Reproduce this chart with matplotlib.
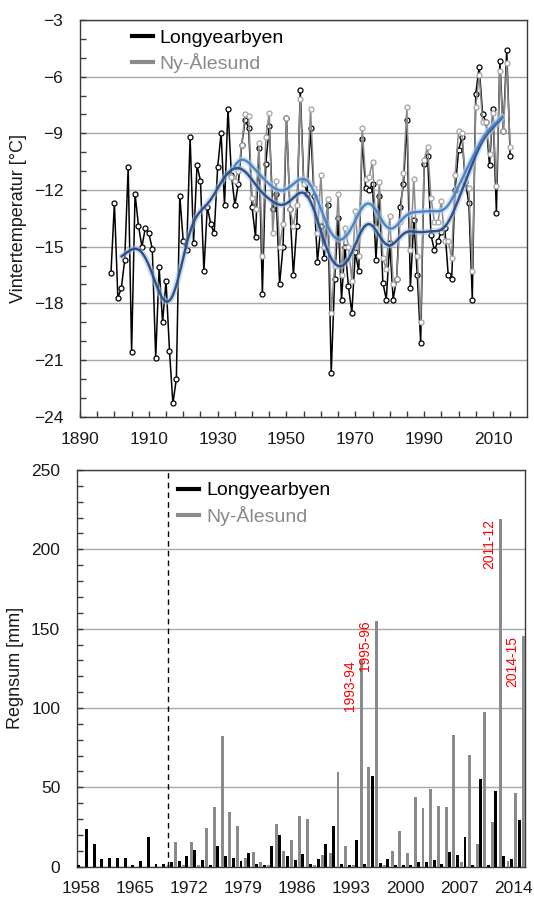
import numpy as np
import matplotlib
matplotlib.use( "Agg" )
import matplotlib.pyplot as plt
from matplotlib.lines import Line2D
from matplotlib.ticker import MultipleLocator, FixedLocator

plt.rcParams[ 'font.family' ] = [ 'Liberation Sans', 'DejaVu Sans' ]

#  Winter temperatures, Longyearbyen 1899-2015
lyr_start = 1899
lyr_temp = [
  -16.4, -12.7, -17.7, -17.2, -15.7, -10.8, -20.6, -12.2, -13.9, -15.0,
  -14.0, -14.3, -15.1, -20.9, -16.1, -19.0, -16.8, -20.5, -23.3, -22.0,
  -12.3, -14.7, -15.2, -9.2, -14.8, -10.7, -11.5, -16.3, -12.9, -13.8,
  -14.3, -10.8, -9.0, -12.8, -7.7, -11.2, -12.8, -11.7, -9.6, -8.3,
  -8.7, -12.9, -14.5, -9.8, -17.5, -10.6, -8.6, -13.0, -12.2, -17.0,
  -15.0, -8.2, -13.0, -16.5, -13.9, -6.7, -11.5, -12.2, -8.7, -12.3,
  -15.8, -13.9, -15.6, -12.8, -21.7, -16.7, -13.5, -17.8, -15.0, -17.1,
  -18.5, -15.3, -16.3, -9.3, -11.9, -12.0, -11.7, -15.7, -12.3, -16.9,
  -17.8, -14.8, -17.8, -16.7, -12.9, -11.7, -8.3, -17.2, -13.6, -16.5,
  -20.1, -10.6, -10.2, -14.4, -15.2, -14.7, -14.2, -14.0, -16.5, -16.7,
  -12.0, -9.9, -9.2, -11.6, -12.7, -17.8, -6.9, -5.5, -8.0, -8.4,
  -10.7, -7.7, -13.2, -5.2, -8.9, -4.6, -10.2,
]

#  Winter temperatures, Ny-Ålesund 1934-2015
ny_start = 1934
ny_temp = [
  -11.3, -11.5, -11.0, -9.6, -8.0, -8.1, -12.4, -13.0, -9.5, -15.5,
  -9.2, -7.9, -14.3, -11.5, -15.0, -13.8, -8.2, -13.0, -13.9, -12.8,
  -7.2, -11.7, -11.6, -7.7, -11.9, -14.3, -11.2, -15.0, -12.5, -18.5,
  -16.0, -12.2, -16.5, -14.0, -15.0, -16.8, -13.1, -15.5, -8.7, -11.4,
  -11.3, -10.5, -14.0, -11.6, -15.6, -16.2, -13.4, -17.0, -16.7, -13.7,
  -11.1, -7.6, -15.2, -11.4, -15.5, -19.0, -10.4, -9.7, -12.4, -13.7,
  -13.7, -12.6, -14.7, -14.7, -15.6, -11.2, -8.9, -9.0, -11.5, -11.9,
  -16.3, -7.6, -5.9, -8.4, -8.4, -10.1, -7.9, -11.8, -5.7, -8.9,
  -5.3, -9.7,
]

#  Winter rain sums [mm], 1958-2015
rain_years = list( range( 1958, 2016 ) )
rain_lyr = [
  1.0, 23.7, 14.0, 4.6, 5.2, 5.7, 5.7, 1.0, 3.4, 18.7,
  1.7, 1.5, 2.7, 3.6, 6.7, 10.7, 4.2, 1.0, 12.8, 6.7,
  5.3, 3.6, 8.6, 1.5, 1.0, 13.2, 19.7, 6.5, 4.2, 7.8,
  1.5, 4.6, 14.1, 25.4, 2.0, 1.0, 16.6, 2.0, 57.4, 2.5,
  4.6, 1.0, 1.0, 1.0, 2.9, 3.2, 4.2, 1.5, 9.0, 7.4,
  18.7, 1.0, 55.5, 1.0, 47.7, 6.7, 4.6, 29.6,
]
rain_ny = [
  0, 0, 0, 0, 0, 0, 0, 0, 0, 0,
  0, 1.0, 15.8, 1.0, 15.5, 1.0, 24.6, 37.8, 82.3, 34.2,
  25.6, 5.3, 9.5, 3.0, 1.0, 26.9, 10.1, 16.8, 31.7, 30.0,
  1.0, 7.1, 8.6, 59.9, 12.8, 1.0, 130.0, 62.6, 155.0, 1.0,
  9.9, 22.5, 8.4, 43.7, 37.0, 49.0, 38.0, 37.6, 83.0, 2.7,
  70.4, 14.1, 97.5, 28.2, 219.0, 3.6, 46.6, 145.6,
]

#  Extreme winters marked on the rain chart
event_years = [ 1994, 1996, 2012, 2015 ]
event_labels = [ "1993-94", "1995-96", "2011-12", "2014-15" ]

ny_rain_start = 1969
rain_ticks = [ 1958, 1965, 1972, 1979, 1986, 1993, 2000, 2007, 2014 ]

BLACK = "#000000"
GREY = "#8a8a8a"
GREY_MARK = "#a3a3a3"
DARK_BLUE = "#2d5088"
LIGHT_BLUE = "#4d84c4"
GRID = "#a8a8a8"
SPINE = "#3a3a3a"


def smooth( years, values, sigma = 3.4, trim = ( 3.0, 2.3 ) ):
  #  Local linear regression with gaussian weights
  years = np.asarray( years, float )
  values = np.asarray( values, float )
  xs = np.linspace( years[ 0 ] + trim[ 0 ], years[ -1 ] - trim[ 1 ], 400 )
  ys = np.empty_like( xs )
  for i, x in enumerate( xs ):
    w = np.exp( -0.5 * ( ( years - x ) / sigma ) ** 2 )
    coef = np.polyfit( years - x, values, 1, w = np.sqrt( w ) )
    ys[ i ] = coef[ 1 ]
  return xs, ys


def style_axes( ax ):
  for s in ax.spines.values():
    s.set_color( SPINE )
    s.set_linewidth( 1.0 )
  ax.set_axisbelow( True )
  ax.yaxis.grid( True, which = "major", color = GRID, linewidth = 1.0 )
  ax.tick_params( which = "both", direction = "in", colors = SPINE, labelcolor = "#1a1a1a",
                  labelsize = 12.5, width = 1.0 )
  ax.tick_params( which = "major", length = 4 )
  ax.tick_params( which = "minor", length = 4 )


fig = plt.figure( figsize = ( 5.34, 8.98 ), dpi = 100 )

#  Temperature chart
#
ax1 = fig.add_axes( [ 0.1498, 0.5360, 0.8365, 0.4418 ] )
style_axes( ax1 )

lyr_years = np.arange( lyr_start, lyr_start + len( lyr_temp ) )
ny_years = np.arange( ny_start, ny_start + len( ny_temp ) )

ax1.plot( lyr_years, lyr_temp, color = BLACK, linewidth = 1.1, marker = "o", markersize = 3.6,
          markerfacecolor = "white", markeredgecolor = BLACK, markeredgewidth = 0.9, zorder = 3 )
ax1.plot( ny_years, ny_temp, color = GREY, linewidth = 1.1, marker = "o", markersize = 3.6,
          markerfacecolor = "white", markeredgecolor = GREY_MARK, markeredgewidth = 0.9, zorder = 4 )

#  Smoothed curves with a soft halo
sx, sy = smooth( lyr_years, lyr_temp, trim = ( 3.1, 2.3 ) )
ax1.plot( sx, sy, color = "#a9c3e3", linewidth = 4.5, alpha = 0.55, solid_capstyle = "round", zorder = 5 )
ax1.plot( sx, sy, color = DARK_BLUE, linewidth = 1.7, zorder = 6 )
sx, sy = smooth( ny_years, ny_temp, trim = ( 0.8, 2.3 ) )
ax1.plot( sx, sy, color = "#b4cdea", linewidth = 4.5, alpha = 0.55, solid_capstyle = "round", zorder = 5 )
ax1.plot( sx, sy, color = LIGHT_BLUE, linewidth = 1.7, zorder = 6 )

ax1.set_xlim( 1890, 2019.8 )
ax1.set_ylim( -24, -3 )
ax1.xaxis.set_major_locator( FixedLocator( np.arange( 1890, 2011, 20 ) ) )
ax1.xaxis.set_minor_locator( MultipleLocator( 5 ) )
ax1.yaxis.set_major_locator( MultipleLocator( 3 ) )
ax1.yaxis.set_minor_locator( MultipleLocator( 1 ) )
ax1.tick_params( axis = "x", which = "major", pad = 11 )
ax1.tick_params( axis = "y", which = "major", pad = 12 )
ax1.set_ylabel( "Vintertemperatur [°C]", fontsize = 13, color = "#1a1a1a" )
ax1.yaxis.set_label_coords( -0.118, 0.5 )

handles = [ Line2D( [], [], color = BLACK, linewidth = 3 ), Line2D( [], [], color = GREY, linewidth = 3 ) ]
ax1.legend( handles, [ "Longyearbyen", "Ny-Ålesund" ], loc = "upper left", bbox_to_anchor = ( 0.116, 0.977 ),
            frameon = False, fontsize = 14, handlelength = 1.1, handletextpad = 0.3, labelspacing = 0.3,
            borderpad = 0, borderaxespad = 0, labelcolor = "linecolor" )

#  Rain chart
#
ax2 = fig.add_axes( [ 0.1440, 0.03486, 0.8391, 0.4418 ] )
style_axes( ax2 )

ry = np.array( rain_years, float )
ax2.bar( ry - 0.26, rain_lyr, width = 0.38, color = BLACK, zorder = 3 )
ax2.bar( ry + 0.30, rain_ny, width = 0.38, color = GREY, zorder = 3 )

ax2.axvline( ny_rain_start + 0.25, color = BLACK, linewidth = 1.0, linestyle = ( 0, ( 4, 3 ) ), zorder = 4 )

for year, label in zip( event_years, event_labels ):
  value = rain_ny[ rain_years.index( year ) ]
  ax2.text( year + 0.30 - 0.55, value, label, rotation = 90, ha = "right", va = "top",
            color = "#ff0000", fontsize = 10, zorder = 5 )

ax2.set_xlim( 1957.5, 2015.5 )
ax2.set_ylim( 0, 250 )
ax2.xaxis.set_major_locator( FixedLocator( rain_ticks ) )
ax2.yaxis.set_major_locator( MultipleLocator( 50 ) )
ax2.yaxis.set_minor_locator( MultipleLocator( 10 ) )
ax2.tick_params( axis = "x", which = "both", length = 0, pad = 10 )
ax2.tick_params( axis = "y", which = "major", pad = 12 )
ax2.set_ylabel( "Regnsum [mm]", fontsize = 13, color = "#1a1a1a" )
ax2.yaxis.set_label_coords( -0.118, 0.5 )

ax2.legend( handles, [ "Longyearbyen", "Ny-Ålesund" ], loc = "upper left", bbox_to_anchor = ( 0.225, 0.97 ),
            frameon = False, fontsize = 14, handlelength = 1.1, handletextpad = 0.35, labelspacing = 0.33,
            borderpad = 0, borderaxespad = 0, labelcolor = "linecolor" )

fig.savefig( "out.png", dpi = 100 )
